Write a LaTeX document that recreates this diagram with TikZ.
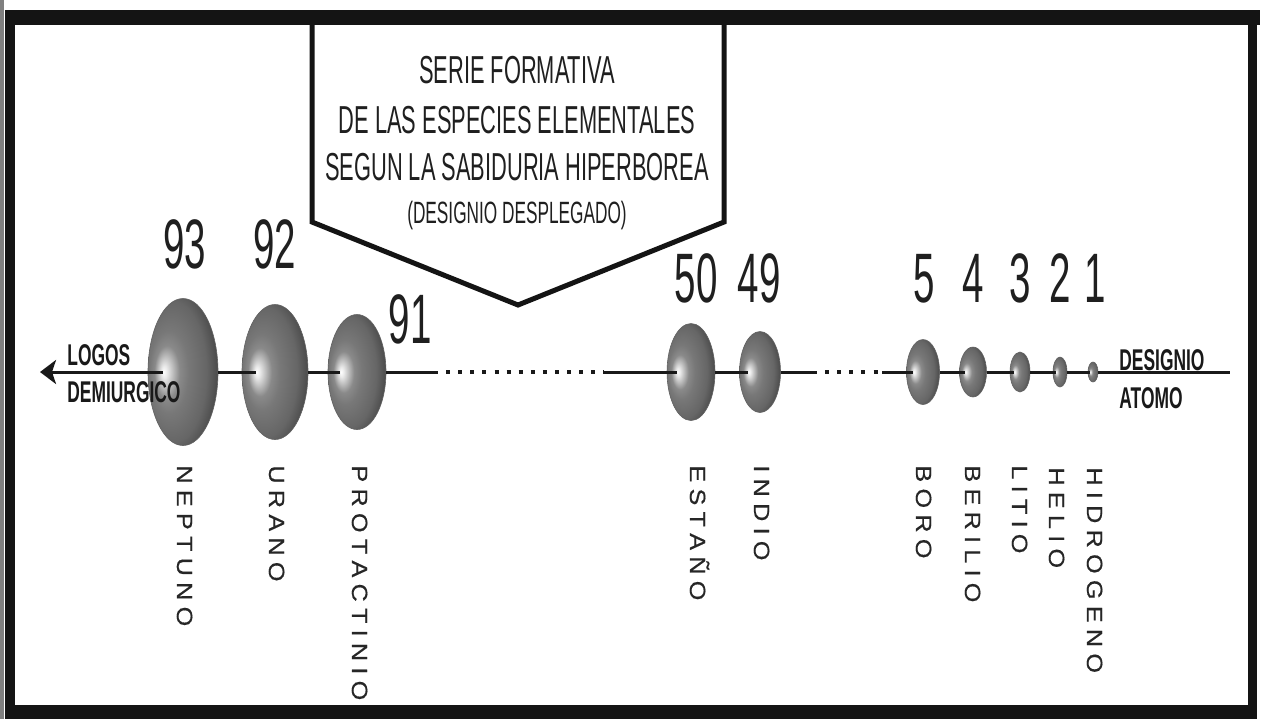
\documentclass[tikz,border=0pt]{standalone}
\usepackage{fontspec}
\usetikzlibrary{shapes.geometric,arrows.meta,calc}
\newfontfamily\condfont[FakeStretch=0.56]{Liberation Sans}
\newfontfamily\numfont[FakeStretch=0.55]{Liberation Sans}
\newfontfamily\boldcond[FakeStretch=0.58]{Liberation Sans}
\newfontfamily\widefont[FakeStretch=1.15,FakeBold=0.4]{Liberation Sans}
\makeatletter
\newcommand\spcout[1]{\@tfor\spcch:=#1\do{\spcch\kern3.1pt}}
\makeatother
\pgfdeclareradialshading{sph}{\pgfpoint{-14bp}{0bp}}{color(0bp)=(white); color(2bp)=(black!8); color(9bp)=(black!46); color(14bp)=(black!53); color(24bp)=(black!60); color(30bp)=(black!70); color(38bp)=(black!82); color(50bp)=(black!87)}
\tikzset{
  sphere/.style={ellipse, inner sep=0pt, shade, shading=sph, draw=black!62, line width=0.3pt},
  conn/.style={line width=1.5pt, draw=black!90},
  dotline/.style={line width=2pt, draw=black!90, dash pattern=on 2pt off 4.05pt, dash phase=2pt},
  ttl/.style={inner sep=0pt, anchor=base, text=black!88, font=\condfont\fontsize{19.5}{22}\selectfont},
  subttl/.style={inner sep=0pt, anchor=base, text=black!88, font=\condfont\fontsize{15.4}{18}\selectfont},
  num/.style={inner sep=0pt, anchor=base, text=black!88, font=\numfont\fontsize{35}{40}\selectfont},
  endlbl/.style={inner sep=0pt, anchor=base west, text=black!90, font=\boldcond\bfseries\fontsize{15}{18}\selectfont},
  vlbl/.style={inner sep=0pt, anchor=base west, rotate=-90, text=black!85, font=\widefont\fontsize{11}{13}\selectfont},
  framebar/.style={fill=black!92}
}
\begin{document}
\begin{tikzpicture}[x=0.5pt,y=-0.5pt]
\useasboundingbox (0,0) rectangle (1262,719);
\fill[white] (0,0) rectangle (1262,719);
% frame
\fill[black!50] (0,0) rectangle (4,719);
\fill[framebar] (5,10) rectangle (1260,25);
\fill[framebar] (5,10) rectangle (15,719);
\fill[framebar] (1248,10) rectangle (1257,719);
\fill[framebar] (5,705) rectangle (1257,719);
% title box
\draw[line width=2.5pt, line join=miter, draw=black!92] (312,20) -- (312,222) -- (518,305) -- (724,222) -- (724,20);
\node[ttl] (t1) at (517,83) {SERIE FORMATIVA};
\node[ttl] (t2) at (517,133) {DE LAS ESPECIES ELEMENTALES};
\node[ttl] (t3) at (517,180) {SEGUN LA SABIDURIA HIPERBOREA};
\node[subttl] (t4) at (517,223) {(DESIGNIO DESPLEGADO)};
% spheres
\node[sphere, minimum width=35pt, minimum height=73.5pt] (s93) at (183,372) {};
\node[sphere, minimum width=33pt, minimum height=67.5pt] (s92) at (275,372) {};
\node[sphere, minimum width=29pt, minimum height=57.5pt] (s91) at (357,372) {};
\node[sphere, minimum width=24pt, minimum height=48.5pt] (s50) at (691,372) {};
\node[sphere, minimum width=20.5pt, minimum height=40.5pt] (s49) at (760,372) {};
\node[sphere, minimum width=16.5pt, minimum height=32.5pt] (s5) at (923,372) {};
\node[sphere, minimum width=13.5pt, minimum height=25pt] (s4) at (973,372) {};
\node[sphere, minimum width=10pt, minimum height=20pt] (s3) at (1020,372) {};
\node[sphere, minimum width=7pt, minimum height=15pt] (s2) at (1060,372) {};
\node[sphere, minimum width=5pt, minimum height=10pt] (s1) at (1093,372) {};
% highlight points
\foreach \s in {93,92,91,50,49,5,4,3,2,1}{
  \coordinate (h\s) at ($(s\s.center)!0.57!(s\s.west)$);
}
\coordinate (ltip) at (40,372);
\coordinate (da) at (438,372);
\coordinate (db) at (604,372);
\coordinate (dc) at (817,372);
\coordinate (dd) at (882,372);
\coordinate (rend) at (1230,372);
% connectors
\draw[conn, -{Stealth[length=8pt,width=12pt,inset=2pt]}] (h93) -- (ltip);
\draw[conn] (s93.east) -- (h92);
\draw[conn] (s92.east) -- (h91);
\draw[conn] (s91.east) -- (da);
\draw[dotline] (da) -- (db);
\draw[conn] (db) -- (h50);
\draw[conn] (s50.east) -- (h49);
\draw[conn] (s49.east) -- (dc);
\draw[dotline] (dc) -- (dd);
\draw[conn] (dd) -- (h5);
\draw[conn] (s5.east) -- (h4);
\draw[conn] (s4.east) -- (h3);
\draw[conn] (s3.east) -- (h2);
\draw[conn] (s2.east) -- (h1);
\draw[conn] (s1.east) -- (rend);
% numbers
\node[num] (n93) at (185,268) {93};
\node[num] (n92) at (275,268) {92};
\node[num] (n91) at (410,343) {91};
\node[num] (n50) at (696,302) {50};
\node[num] (n49) at (759,302) {49};
\node[num] (n5) at (924,302) {5};
\node[num] (n4) at (973,302) {4};
\node[num] (n3) at (1020,302) {3};
\node[num] (n2) at (1060,302) {2};
\node[num] (n1) at (1095,302) {1};
% end labels
\node[endlbl] (lg1) at (67,365) {LOGOS};
\node[endlbl] (lg2) at (67,402) {DEMIURGICO};
\node[endlbl] (da1) at (1119,370) {DESIGNIO};
\node[endlbl] (da2) at (1119,408) {ATOMO};
% vertical labels
\node[vlbl] (v93) at (177,465) {\spcout{NEPTUNO}};
\node[vlbl] (v92) at (269,465) {\spcout{URANO}};
\node[vlbl] (v91) at (352,465) {\spcout{PROTACTINIO}};
\node[vlbl] (v50) at (690,465) {\spcout{ESTAÑO}};
\node[vlbl] (v49) at (754,465) {\spcout{INDIO}};
\node[vlbl] (v5) at (916,465) {\spcout{BORO}};
\node[vlbl] (v4) at (965,465) {\spcout{BERILIO}};
\node[vlbl] (v3) at (1012,465) {\spcout{LITIO}};
\node[vlbl] (v2) at (1049,467) {\spcout{HELIO}};
\node[vlbl] (v1) at (1087,467) {\spcout{HIDROGENO}};
\end{tikzpicture}
\end{document}
